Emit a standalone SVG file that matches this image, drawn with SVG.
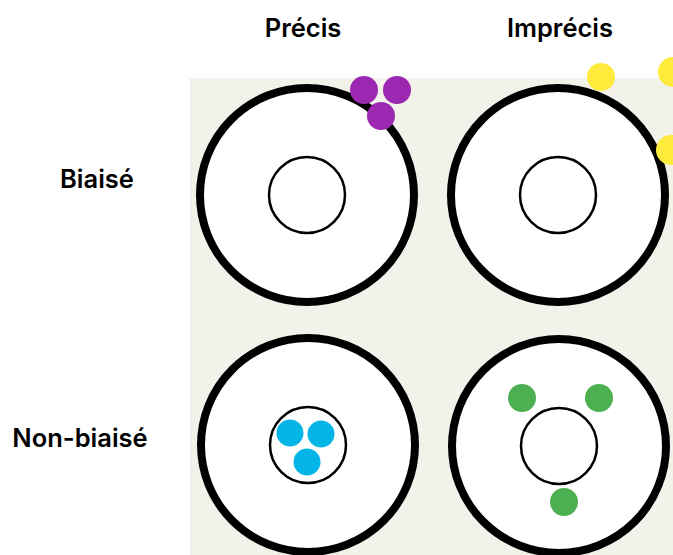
<svg xmlns="http://www.w3.org/2000/svg" width="673" height="555" viewBox="0 0 673 555">
<style>
.lbl{font-family:Inter,Roboto,"Liberation Sans",sans-serif;font-weight:600;font-size:25.5px;fill:#000}
.outer{fill:#fff;stroke:#000;stroke-width:8}
.inner{fill:#fff;stroke:#000;stroke-width:2.5}
.p{fill:#9C27B0}.y{fill:#FFEB3B}.c{fill:#03B5E6}.g{fill:#4CAF50}
</style>
<rect width="673" height="555" fill="#fff"/>
<rect x="190" y="78" width="483" height="477" fill="#F2F1EA"/>
<g id="labels">
<text class="lbl" x="303" y="37" text-anchor="middle">Précis</text>
<text class="lbl" x="560" y="37" text-anchor="middle">Imprécis</text>
<text class="lbl" x="97" y="188" text-anchor="middle">Biaisé</text>
<text class="lbl" x="80" y="447" text-anchor="middle">Non-biaisé</text>
</g>
<g id="target-precis-biaise">
<circle class="outer" cx="307" cy="195" r="107"/>
<circle class="inner" cx="307" cy="195" r="38"/>
</g>
<g id="target-imprecis-biaise">
<circle class="outer" cx="558" cy="195" r="107"/>
<circle class="inner" cx="558" cy="195" r="38"/>
</g>
<g id="target-precis-nonbiaise">
<circle class="outer" cx="308" cy="445" r="107"/>
<circle class="inner" cx="308" cy="445" r="38"/>
</g>
<g id="target-imprecis-nonbiaise">
<circle class="outer" cx="559" cy="446" r="107"/>
<circle class="inner" cx="559" cy="446" r="38"/>
</g>
<g id="dots-purple">
<circle class="p" cx="364" cy="90" r="14"/>
<circle class="p" cx="397" cy="90" r="14"/>
<circle class="p" cx="381" cy="116" r="14"/>
</g>
<g id="dots-yellow">
<circle class="y" cx="601" cy="77" r="14"/>
<circle class="y" cx="673" cy="72" r="15"/>
<circle class="y" cx="671" cy="150" r="15"/>
</g>
<g id="dots-cyan">
<circle class="c" cx="290" cy="433" r="13.5"/>
<circle class="c" cx="321" cy="434" r="13.5"/>
<circle class="c" cx="307" cy="462" r="13.5"/>
</g>
<g id="dots-green">
<circle class="g" cx="522" cy="398" r="14"/>
<circle class="g" cx="599" cy="398" r="14"/>
<circle class="g" cx="564" cy="502" r="14"/>
</g>
</svg>
